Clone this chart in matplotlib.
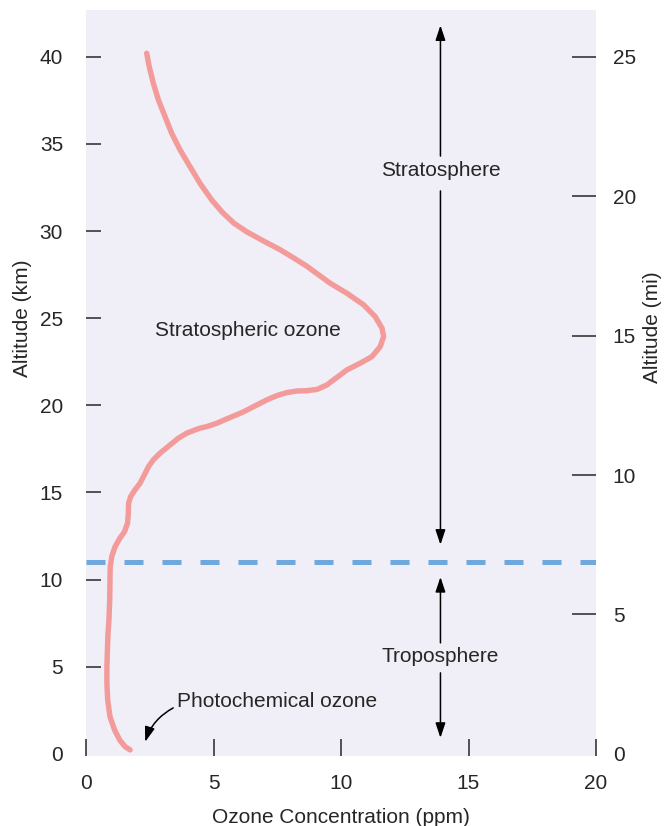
import matplotlib.pyplot as plt

# profil d'ozone (ppm, km)
ozone_ppm = [2.38, 2.48, 2.64, 2.84, 3.10, 3.36, 3.69, 4.08, 4.47, 4.93, 5.36, 5.80, 6.31,
             6.96, 7.62, 8.14, 8.64, 9.58, 10.23, 10.89, 11.34, 11.61, 11.67, 11.54, 11.21,
             10.76, 10.23, 9.97, 9.71, 9.45, 9.06, 8.66, 8.27, 7.88, 7.49, 7.09, 6.70, 6.17,
             5.52, 5.13, 4.74, 4.47, 4.21, 3.95, 3.62, 3.30, 2.90, 2.64, 2.45, 2.32, 2.12,
             1.92, 1.75, 1.67, 1.66, 1.63, 1.51, 1.33, 1.14, 1.01, 0.95, 0.94, 0.93, 0.90,
             0.86, 0.84, 0.82, 0.82, 0.85, 0.94, 1.12, 1.32, 1.53, 1.73]
altitude_km = [40.20, 39.43, 38.48, 37.52, 36.56, 35.61, 34.65, 33.69, 32.74, 31.78, 31.05, 30.45, 29.95,
               29.43, 28.92, 28.46, 28.00, 27.00, 26.43, 25.76, 25.09, 24.42, 23.94, 23.37, 22.79,
               22.42, 22.03, 21.74, 21.46, 21.17, 20.91, 20.84, 20.82, 20.73, 20.56, 20.31, 20.02, 19.62,
               19.22, 18.97, 18.78, 18.69, 18.55, 18.40, 18.11, 17.73, 17.25, 16.87, 16.48, 16.10, 15.53,
               15.15, 14.76, 14.38, 13.81, 13.24, 12.75, 12.38, 11.89, 11.32, 10.75, 9.98, 8.84, 7.69,
               6.83, 5.97, 5.01, 4.06, 3.10, 2.14, 1.38, 0.80, 0.42, 0.23]

tropopause_km = 11.0
x_ticks = [0, 5, 10, 15, 20]
km_ticks = [5, 10, 15, 20, 25, 30, 35, 40]
mi_ticks = [5, 10, 15, 20, 25]
km_per_mi = 1.6

fond = '#f0eef6'
rose = '#f39b9b'
bleu = '#6fa8dc'
texte = '#262626'

plt.rcParams['font.family'] = ['Liberation Sans', 'DejaVu Sans']
plt.rcParams['font.size'] = 15

fig = plt.figure(figsize=(6.65, 8.26), dpi=100)
ax = fig.add_axes([86 / 665, 70 / 826, 510 / 665, 746 / 826])
ax.set_facecolor(fond)
for s in ax.spines.values():
    s.set_visible(False)

ax.plot(ozone_ppm, altitude_km, color=rose, lw=3.9, solid_capstyle='round',
        solid_joinstyle='round', zorder=3)
ax.axhline(tropopause_km, color=bleu, lw=3.6, linestyle=(0, (3.8, 3.8)), zorder=2)

ax.set_xlim(0, 20)
ax.set_ylim(-0.12, 42.68)
ax.set_xticks(x_ticks)
ax.set_yticks(km_ticks)
# le zéro a une étiquette mais pas de trait
ax.set_yticks([0], minor=True)
ax.set_yticklabels(['0'], minor=True)
ax.tick_params(axis='x', direction='in', length=12.2, width=1.1, pad=13, colors=texte)
ax.tick_params(axis='y', direction='in', length=10.8, width=1.1, pad=16.5, colors=texte)
ax.tick_params(axis='y', which='minor', length=0, pad=16.5, colors=texte, labelsize=15)

ax.set_xlabel('Ozone Concentration (ppm)', color=texte)
ax.xaxis.set_label_coords(0.5, -0.083)
ax.xaxis.label.set_va('center')
ax.set_ylabel('Altitude (km)', color=texte)
ax.yaxis.set_label_coords(-0.125, 0.587)
ax.yaxis.label.set_va('center')

ax2 = ax.twinx()
for s in ax2.spines.values():
    s.set_visible(False)
ax2.set_ylim(-0.12 / km_per_mi, 42.68 / km_per_mi)
ax2.set_yticks(mi_ticks)
ax2.set_yticks([0], minor=True)
ax2.set_yticklabels(['0'], minor=True)
ax2.tick_params(axis='y', direction='in', length=17.3, width=1.1, pad=12, colors=texte)
ax2.tick_params(axis='y', which='minor', length=0, pad=12, colors=texte, labelsize=15)
ax2.set_ylabel('Altitude (mi)', color=texte)
ax2.yaxis.set_label_coords(1.110, 0.575)
ax2.yaxis.label.set_va('center')

# flèches et étiquettes
fleche = dict(arrowstyle='-|>,head_length=0.6,head_width=0.2', color='black', lw=1.1,
              shrinkA=0, shrinkB=0)
ax.annotate('', xy=(13.9, 41.8), xytext=(13.9, 34.3), arrowprops=fleche)
ax.annotate('', xy=(13.9, 12.0), xytext=(13.9, 32.3), arrowprops=fleche)
ax.text(13.9, 33.5, 'Stratosphere', ha='center', va='center', color=texte)
ax.annotate('', xy=(13.9, 10.15), xytext=(13.9, 6.37), arrowprops=fleche)
ax.annotate('', xy=(13.9, 0.92), xytext=(13.9, 4.65), arrowprops=fleche)
ax.text(13.9, 5.57, 'Troposphere', ha='center', va='center', color=texte)

ax.text(6.33, 24.3, 'Stratospheric ozone', ha='center', va='center', color=texte)
ax.text(3.58, 2.98, 'Photochemical ozone', ha='left', va='center', color=texte)
ax.annotate('', xy=(2.32, 0.69), xytext=(3.42, 2.64),
            arrowprops=dict(arrowstyle='-|>,head_length=0.6,head_width=0.2', color='black',
                            lw=1.1, shrinkA=0, shrinkB=0, connectionstyle='arc3,rad=0.2'))

fig.savefig('out.png', dpi=100)
